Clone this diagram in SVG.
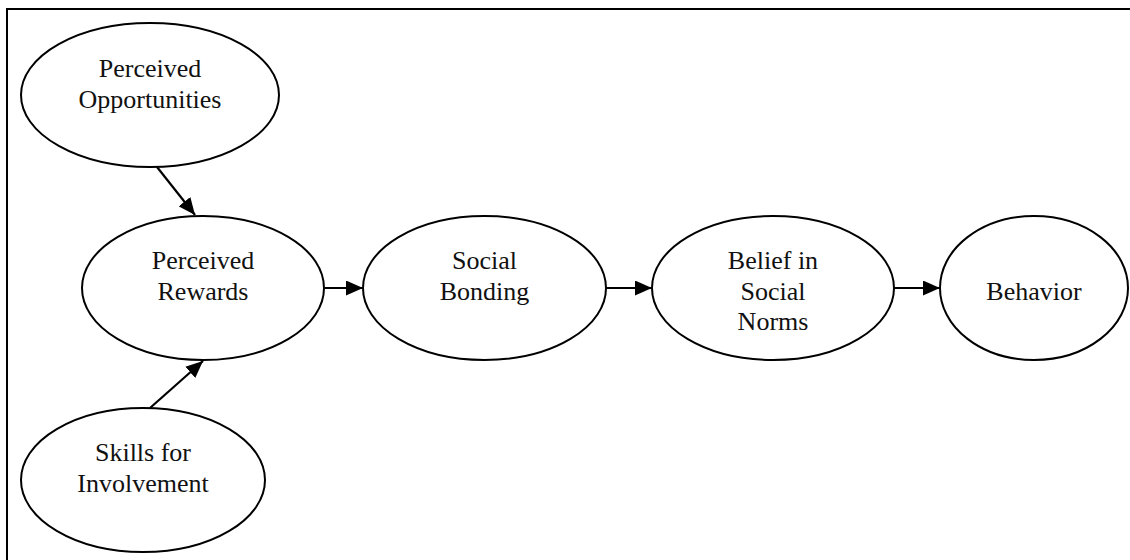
<svg xmlns="http://www.w3.org/2000/svg" width="1130" height="560" viewBox="0 0 1130 560">
  <style>
    .node ellipse { fill: #ffffff; stroke: #000000; stroke-width: 2; }
    .node text { font-family: "Liberation Serif", "Times New Roman", serif; font-size: 26px; fill: #111111; text-anchor: middle; }
    .edges line { stroke: #000000; stroke-width: 2.2; marker-end: url(#arrow); }
    .frame { fill: none; stroke: #000000; stroke-width: 2; }
  </style>
  <defs>
    <marker id="arrow" markerWidth="17" markerHeight="15" refX="17" refY="7.5" orient="auto" markerUnits="userSpaceOnUse">
      <path d="M0,0 L17,7.5 L0,15 Z" fill="#000000"/>
    </marker>
  </defs>

  <rect width="1130" height="560" fill="#ffffff"/>
  <!-- page frame, running past the right and bottom edges -->
  <rect class="frame" x="7" y="9" width="1200" height="600"/>

  <g class="edges">
    <line x1="157" y1="167" x2="195" y2="215"/>
    <line x1="150" y1="408" x2="203" y2="361"/>
    <line x1="325" y1="288" x2="363" y2="288"/>
    <line x1="606" y1="288" x2="652" y2="288"/>
    <line x1="894" y1="288" x2="940" y2="288"/>
  </g>

  <g id="perceived-opportunities" class="node">
    <ellipse cx="150" cy="95" rx="129" ry="72"/>
    <text x="150" y="77">Perceived</text>
    <text x="150" y="108">Opportunities</text>
  </g>

  <g id="perceived-rewards" class="node">
    <ellipse cx="203" cy="288" rx="121" ry="72"/>
    <text x="203" y="269">Perceived</text>
    <text x="203" y="300">Rewards</text>
  </g>

  <g id="skills-for-involvement" class="node">
    <ellipse cx="143" cy="480" rx="122" ry="72"/>
    <text x="143" y="461">Skills for</text>
    <text x="143" y="492">Involvement</text>
  </g>

  <g id="social-bonding" class="node">
    <ellipse cx="484.5" cy="288" rx="121.5" ry="72"/>
    <text x="484.5" y="269">Social</text>
    <text x="484.5" y="300">Bonding</text>
  </g>

  <g id="belief-in-social-norms" class="node">
    <ellipse cx="773" cy="288" rx="121" ry="72"/>
    <text x="773" y="269">Belief in</text>
    <text x="773" y="300">Social</text>
    <text x="773" y="330">Norms</text>
  </g>

  <g id="behavior" class="node">
    <ellipse cx="1034" cy="288" rx="94" ry="72"/>
    <text x="1034" y="300">Behavior</text>
  </g>
</svg>
